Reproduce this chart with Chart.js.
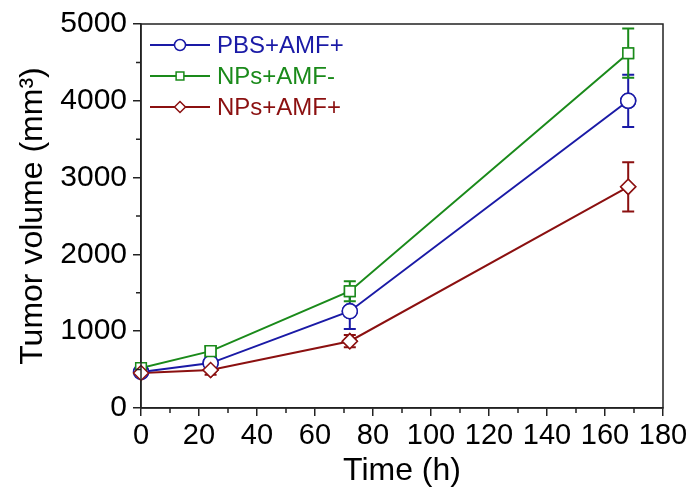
<!DOCTYPE html>
<html>
<head>
<meta charset="utf-8">
<script src="https://cdn.jsdelivr.net/npm/chart.js@4.4.1/dist/chart.umd.min.js"></script>
<style>
  html, body { margin: 0; padding: 0; background: #fff; }
  #wrap { width: 694px; height: 492px; }
</style>
</head>
<body>
<div id="wrap"><canvas id="chart" width="694" height="492"></canvas></div>
<script>
// time points (h)
let times = [0, 24, 72, 168];

let labels = ["PBS+AMF+", "NPs+AMF-", "NPs+AMF+"];
let pbsAmf = [470, 585, 1260, 4000];
let npsNoAmf = [520, 740, 1520, 4620];
let npsAmf = [455, 494, 870, 2880];

// error bars (±)
let pbsAmfErr = [40, 60, 230, 340];
let npsNoAmfErr = [40, 60, 130, 320];
let npsAmfErr = [40, 60, 80, 320];

let xTicks = [0, 20, 40, 60, 80, 100, 120, 140, 160, 180];
let yTicks = [0, 1000, 2000, 3000, 4000, 5000];

let colors = ["#1a1aa6", "#1a8a1a", "#8b1010"];
let markers = ["circle", "rect", "rectRot"];

function points(vals) {
    return vals.map((v, i) => ({ x: times[i], y: v }));
}

let series = [pbsAmf, npsNoAmf, npsAmf];
let errors = [pbsAmfErr, npsNoAmfErr, npsAmfErr];

let font = "Liberation Sans, Arial, sans-serif";

// error bars, minor ticks, frame and legend
let extras = {
    id: "extras",
    afterDatasetsDraw(chart) {
        let ctx = chart.ctx;
        let xs = chart.scales.x, ys = chart.scales.y;
        let a = chart.chartArea;
        ctx.save();

        // error bars
        series.forEach((vals, s) => {
            ctx.strokeStyle = colors[s];
            ctx.lineWidth = 2;
            vals.forEach((v, i) => {
                let px = xs.getPixelForValue(times[i]);
                let top = ys.getPixelForValue(v + errors[s][i]);
                let bot = ys.getPixelForValue(v - errors[s][i]);
                ctx.beginPath();
                ctx.moveTo(px, top); ctx.lineTo(px, bot);
                ctx.moveTo(px - 6, top); ctx.lineTo(px + 6, top);
                ctx.moveTo(px - 6, bot); ctx.lineTo(px + 6, bot);
                ctx.stroke();
            });
        });
        // redraw markers on top of error bars
        chart.getSortedVisibleDatasetMetas().forEach(m => {
            m.data.forEach(el => el.draw(ctx, a));
        });

        // frame
        ctx.strokeStyle = "#222";
        ctx.lineWidth = 1.5;
        ctx.strokeRect(a.left, a.top, a.right - a.left, a.bottom - a.top);

        // minor ticks
        ctx.beginPath();
        for (let v = 10; v < 180; v += 20) {
            let px = xs.getPixelForValue(v);
            ctx.moveTo(px, a.bottom); ctx.lineTo(px, a.bottom + 5);
        }
        for (let v = 500; v < 5000; v += 1000) {
            let py = ys.getPixelForValue(v);
            ctx.moveTo(a.left, py); ctx.lineTo(a.left - 5, py);
        }
        ctx.stroke();

        // legend
        ctx.font = "24px " + font;
        ctx.textBaseline = "middle";
        labels.forEach((lab, s) => {
            let y = a.top + 21 + s * 31;
            let x0 = a.left + 9;
            ctx.strokeStyle = colors[s];
            ctx.lineWidth = 2;
            ctx.beginPath();
            ctx.moveTo(x0, y); ctx.lineTo(x0 + 60, y);
            ctx.stroke();
            ctx.fillStyle = "#fff";
            ctx.lineWidth = 1.5;
            Chart.helpers.drawPoint(ctx, {
                pointStyle: markers[s], radius: 5.5, borderWidth: 1.5, rotation: 0
            }, x0 + 30, y);
            ctx.fillStyle = colors[s];
            ctx.fillText(lab, x0 + 67, y + 1);
        });
        ctx.restore();
    },
    beforeDraw(chart) {
        let ctx = chart.ctx;
        ctx.save();
        ctx.fillStyle = "#fff";
        ctx.fillRect(0, 0, chart.width, chart.height);
        ctx.restore();
    }
};

let ctx0 = document.getElementById("chart").getContext("2d");

let datasets = series.map((vals, s) => ({
    label: labels[s],
    data: points(vals),
    borderColor: colors[s],
    backgroundColor: "#fff",
    borderWidth: 2,
    pointStyle: markers[s],
    pointRadius: 7.5,
    pointBorderWidth: 1.5,
    pointBackgroundColor: "#fff",
    pointBorderColor: colors[s],
    tension: 0
}));

new Chart(ctx0, {
    type: "line",
    data: { datasets: datasets },
    options: {
        responsive: false,
        animation: false,
        devicePixelRatio: 1,
        layout: { padding: { top: 23, right: 31, left: 0, bottom: 0 } },
        plugins: {
            legend: { display: false },
            tooltip: { enabled: false }
        },
        scales: {
            x: {
                type: "linear",
                min: 0, max: 180,
                afterBuildTicks: s => { s.ticks = xTicks.map(v => ({ value: v })); },
                afterFit: s => { s.height = 84; },
                ticks: { color: "#000", font: { family: font, size: 29 }, padding: 3, maxRotation: 0, callback: v => String(v) },
                grid: { drawOnChartArea: false, drawTicks: true, tickLength: 8, color: "#222", lineWidth: 1.5 },
                border: { display: true, color: "#222", width: 1.5 },
                title: { display: true, text: "Time (h)", color: "#000", font: { family: font, size: 32 }, padding: { top: 0, bottom: 2 } }
            },
            y: {
                type: "linear",
                min: 0, max: 5000,
                afterBuildTicks: s => { s.ticks = yTicks.map(v => ({ value: v })); },
                afterFit: s => { s.width = 141; },
                ticks: { color: "#000", font: { family: font, size: 30 }, padding: 6, callback: v => String(v) },
                grid: { drawOnChartArea: false, drawTicks: true, tickLength: 8, color: "#222", lineWidth: 1.5 },
                border: { display: true, color: "#222", width: 1.5 },
                title: { display: true, text: "Tumor volume (mm³)", color: "#000", font: { family: font, size: 32 }, padding: { top: 14, bottom: 0 } }
            }
        }
    },
    plugins: [extras]
});
</script>
</body>
</html>
